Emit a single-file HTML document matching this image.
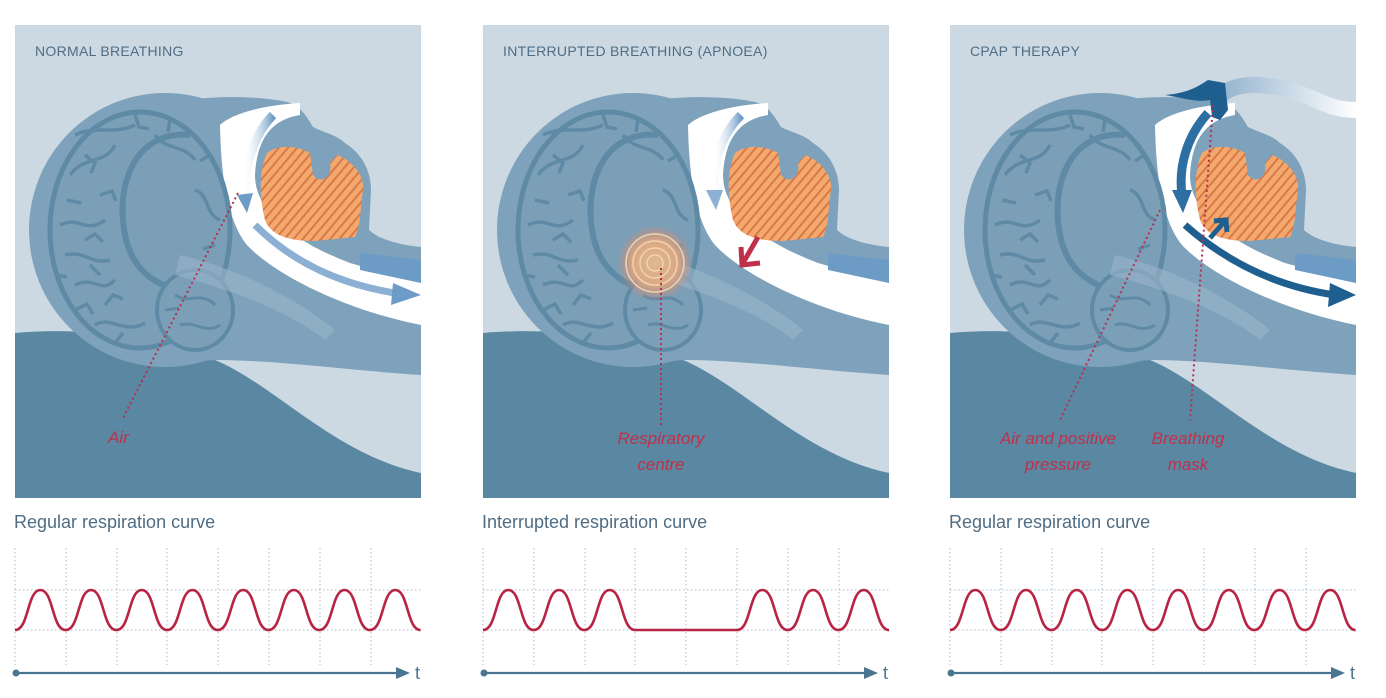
<!DOCTYPE html>
<html><head><meta charset="utf-8"><style>
html,body{margin:0;padding:0;background:#fff;}
svg{display:block;}
text{font-family:"Liberation Sans",sans-serif;}
</style></head><body>
<svg width="1386" height="698" viewBox="0 0 1386 698" xmlns="http://www.w3.org/2000/svg">
<defs>
<pattern id="hatch" width="7" height="7" patternUnits="userSpaceOnUse" patternTransform="rotate(40)">
<rect width="7" height="7" fill="#f3a86c"/><rect width="2" height="7" fill="#d9784a"/>
</pattern>
<linearGradient id="airG" x1="0" y1="0" x2="1" y2="0"><stop offset="0" stop-color="#ffffff" stop-opacity="0.2"/><stop offset="1" stop-color="#6e9cc8"/></linearGradient>
<linearGradient id="tubeG" x1="0" y1="0" x2="1" y2="0"><stop offset="0" stop-color="#8fb0cc"/><stop offset="1" stop-color="#ffffff"/></linearGradient>
<radialGradient id="glow"><stop offset="0" stop-color="#e0b890"/><stop offset="0.6" stop-color="#d9a882"/><stop offset="1" stop-color="#d08070" stop-opacity="0"/></radialGradient>
<clipPath id="pc"><rect width="406" height="473"/></clipPath>
<g id="base">
<rect width="406" height="473" fill="#cdd9e2"/>
<path d="M0,308 C90,300 160,320 200,335 C260,360 320,430 406,448 L406,473 L0,473 Z" fill="#5a87a1"/>
<path d="M140,300 C200,250 300,250 406,270 L406,350 C330,345 260,335 200,335 L150,340 Z" fill="#7ea2bb"/>
<ellipse cx="150" cy="205" rx="136" ry="137" fill="#7ea2bb"/>
<path d="M170,75 C210,70 250,72 272,77 C285,80 292,92 298,102 C310,108 322,110 330,118 C346,128 356,145 356,165 L354,205 C365,215 385,220 406,222 L406,300 L200,300 Z" fill="#7ea2bb"/>
<path d="M205,100 C218,88 250,80 285,78 L285,90 C255,95 242,115 240,150 C240,185 275,215 335,238 L406,258 L406,300 C330,285 260,250 232,220 C212,195 206,150 205,100 Z" fill="#ffffff"/>
<path d="M345,228 L406,235 L406,258 L345,245 Z" fill="#6c9bc6"/>
<path d="M252,128 C265,118 285,122 295,128 L298,150 C306,160 318,152 315,138 L322,130 C336,135 350,150 348,165 C345,185 346,200 340,212 L300,216 C272,216 256,210 250,195 C244,170 244,145 252,128 Z" fill="url(#hatch)"/>
<ellipse cx="125" cy="205" rx="90" ry="118" fill="#7c9fb8" stroke="#5f8aa6" stroke-width="5"/>
<g fill="none" stroke="#5f8aa6" stroke-width="3.5">
<path d="M55,150 C70,130 90,140 100,120 M45,200 C65,190 70,210 90,195 M60,260 C80,250 85,270 100,255 M80,300 C95,290 110,310 130,298 M140,110 C150,125 170,120 180,135 M180,165 C195,170 190,190 205,195 M60,110 C80,100 100,110 120,100 M50,230 C70,225 75,240 95,235"/>
<path d="M70,130 l10,8 l-4,10 M85,170 l12,-4 l4,10 M52,175 l14,3 M70,215 l10,-6 l8,8 M60,285 l12,-6 l6,10 M100,318 l8,-10 M120,90 l4,12 l10,2 M155,95 l-2,12 M195,130 l-10,6 M200,220 l-12,4 M40,250 l12,2 M90,280 l8,-10 l10,4 M75,240 l10,10"/>
</g>
<path d="M175,110 C120,105 100,160 110,210 C118,250 150,270 190,265" fill="none" stroke="#5f8aa6" stroke-width="6"/>
<ellipse cx="180" cy="285" rx="38" ry="40" fill="#7c9fb8" stroke="#5f8aa6" stroke-width="4"/>
<path d="M160,270 C175,280 185,265 200,280 M165,300 C180,295 190,310 205,300 M150,285 l14,-2" fill="none" stroke="#5f8aa6" stroke-width="3"/>
<path d="M165,230 C230,245 290,280 320,305 L310,315 C280,290 220,265 160,250 Z" fill="#9ab6c9" opacity="0.6"/>
</g>
</defs>

<g transform="translate(15,25)" clip-path="url(#pc)">
<use href="#base"/>
<path d="M258,90 C238,110 228,145 230,175" fill="none" stroke="url(#airG)" stroke-width="9"/>
<path d="M222,170 L232,188 L238,168 Z" fill="#6e9cc8"/>
<path d="M240,200 C280,240 330,260 380,268" fill="none" stroke="#6e9cc8" stroke-width="7" opacity="0.8"/>
<path d="M378,258 L406,270 L376,280 Z" fill="#6e9cc8"/>
<text x="20" y="31" font-size="14" fill="#4f6d84" letter-spacing="0.3">NORMAL BREATHING</text>
<line x1="223" y1="168" x2="107" y2="395" stroke="#b5304f" stroke-width="2" stroke-dasharray="2,3"/>
<text x="93" y="418" font-size="17" font-style="italic" fill="#c0304a">Air</text>
</g>

<g transform="translate(483,25)" clip-path="url(#pc)">
<use href="#base"/>
<path d="M258,90 C238,110 228,140 232,170" fill="none" stroke="url(#airG)" stroke-width="9"/>
<path d="M223,165 L233,185 L240,165 Z" fill="#8db0d3"/>
<circle cx="172" cy="238" r="38" fill="url(#glow)"/>
<g fill="none" stroke="#f0d4b0" stroke-width="1.5"><circle cx="172" cy="238" r="8"/><circle cx="172" cy="238" r="15"/><circle cx="172" cy="238" r="22"/><circle cx="172" cy="238" r="29"/></g>
<path d="M275,212 L260,238 M258,222 L259,240 L277,238" fill="none" stroke="#c0304a" stroke-width="5"/>
<text x="20" y="31" font-size="14" fill="#4f6d84" letter-spacing="0.3">INTERRUPTED BREATHING (APNOEA)</text>
<line x1="178" y1="243" x2="178" y2="400" stroke="#b5304f" stroke-width="2" stroke-dasharray="2,3"/>
<text x="178" y="419" font-size="17" font-style="italic" fill="#c0304a" text-anchor="middle">Respiratory</text>
<text x="178" y="445" font-size="17" font-style="italic" fill="#c0304a" text-anchor="middle">centre</text>
</g>

<g transform="translate(950,25)" clip-path="url(#pc)">
<use href="#base"/>
<path d="M265,78 C275,60 300,55 340,65 C370,75 380,85 406,85" fill="none" stroke="url(#tubeG)" stroke-width="16"/>
<path d="M215,70 C240,68 250,60 258,55 L275,58 L278,85 L270,95 L262,92 L260,75 C245,78 230,72 215,70 Z" fill="#1f5f90"/>
<path d="M258,88 C238,110 228,140 232,170" fill="none" stroke="#2d6ea3" stroke-width="9"/>
<path d="M222,165 L233,188 L242,165 Z" fill="#2d6ea3"/>
<path d="M235,200 C280,240 330,262 385,270" fill="none" stroke="#1f5f90" stroke-width="7"/>
<path d="M380,258 L406,270 L378,282 Z" fill="#1f5f90"/>
<path d="M260,213 L275,196 M264,196 L276,195 L277,207" fill="none" stroke="#1f5f90" stroke-width="5"/>
<text x="20" y="31" font-size="14" fill="#4f6d84" letter-spacing="0.3">CPAP THERAPY</text>
<line x1="210" y1="185" x2="110" y2="395" stroke="#b5304f" stroke-width="2" stroke-dasharray="2,3"/>
<line x1="263" y1="80" x2="240" y2="395" stroke="#b5304f" stroke-width="2" stroke-dasharray="2,3"/>
<text x="108" y="419" font-size="17" font-style="italic" fill="#c0304a" text-anchor="middle">Air and positive</text>
<text x="108" y="445" font-size="17" font-style="italic" fill="#c0304a" text-anchor="middle">pressure</text>
<text x="238" y="419" font-size="17" font-style="italic" fill="#c0304a" text-anchor="middle">Breathing</text>
<text x="238" y="445" font-size="17" font-style="italic" fill="#c0304a" text-anchor="middle">mask</text>
</g>

<g font-size="18" fill="#4f6d84">
<text x="14" y="528">Regular respiration curve</text>
<text x="482" y="528">Interrupted respiration curve</text>
<text x="949" y="528">Regular respiration curve</text>
</g>
<g stroke="#a9bccb" stroke-width="1" stroke-dasharray="1.5,2.5">
<path d="M15,590H421M15,630H421M483,590H889M483,630H889M950,590H1356M950,630H1356"/>
<path d="M15,548V665M66,548V665M117,548V665M167,548V665M218,548V665M269,548V665M320,548V665M371,548V665"/>
<path d="M483,548V665M534,548V665M585,548V665M635,548V665M686,548V665M737,548V665M788,548V665M839,548V665"/>
<path d="M950,548V665M1001,548V665M1052,548V665M1102,548V665M1153,548V665M1204,548V665M1255,548V665M1306,548V665"/>
</g>
<g fill="none" stroke="#b82444" stroke-width="2.6">
<path d="M15,630 c14,0 12,-40 25.35,-40 c13.35,0 11.35,40 25.35,40 c14,0 12,-40 25.35,-40 c13.35,0 11.35,40 25.35,40 c14,0 12,-40 25.35,-40 c13.35,0 11.35,40 25.35,40 c14,0 12,-40 25.35,-40 c13.35,0 11.35,40 25.35,40 c14,0 12,-40 25.35,-40 c13.35,0 11.35,40 25.35,40 c14,0 12,-40 25.35,-40 c13.35,0 11.35,40 25.35,40 c14,0 12,-40 25.35,-40 c13.35,0 11.35,40 25.35,40 c14,0 12,-40 25.35,-40 c13.35,0 11.35,40 25.35,40"/>
<path d="M950,630 c14,0 12,-40 25.35,-40 c13.35,0 11.35,40 25.35,40 c14,0 12,-40 25.35,-40 c13.35,0 11.35,40 25.35,40 c14,0 12,-40 25.35,-40 c13.35,0 11.35,40 25.35,40 c14,0 12,-40 25.35,-40 c13.35,0 11.35,40 25.35,40 c14,0 12,-40 25.35,-40 c13.35,0 11.35,40 25.35,40 c14,0 12,-40 25.35,-40 c13.35,0 11.35,40 25.35,40 c14,0 12,-40 25.35,-40 c13.35,0 11.35,40 25.35,40 c14,0 12,-40 25.35,-40 c13.35,0 11.35,40 25.35,40"/>
<path d="M483,630 c14,0 12,-40 25.35,-40 c13.35,0 11.35,40 25.35,40 c14,0 12,-40 25.35,-40 c13.35,0 11.35,40 25.35,40 c14,0 12,-40 25.35,-40 c13.35,0 11.35,40 25.35,40 L737,630 c14,0 12,-40 25.35,-40 c13.35,0 11.35,40 25.35,40 c14,0 12,-40 25.35,-40 c13.35,0 11.35,40 25.35,40 c14,0 12,-40 25.35,-40 c13.35,0 11.35,40 25.35,40"/>
</g>
<g fill="#4a7590" stroke="#4a7590">
<line x1="16" y1="673" x2="400" y2="673" stroke-width="2.2"/><circle cx="16" cy="673" r="3.5" stroke="none"/><path d="M396,667 L410,673 L396,679 Z" stroke="none"/>
<line x1="484" y1="673" x2="868" y2="673" stroke-width="2.2"/><circle cx="484" cy="673" r="3.5" stroke="none"/><path d="M864,667 L878,673 L864,679 Z" stroke="none"/>
<line x1="951" y1="673" x2="1335" y2="673" stroke-width="2.2"/><circle cx="951" cy="673" r="3.5" stroke="none"/><path d="M1331,667 L1345,673 L1331,679 Z" stroke="none"/>
</g>
<g font-size="18" fill="#4a7590">
<text x="415" y="679">t</text><text x="883" y="679">t</text><text x="1350" y="679">t</text>
</g>
</svg>
</body></html>
